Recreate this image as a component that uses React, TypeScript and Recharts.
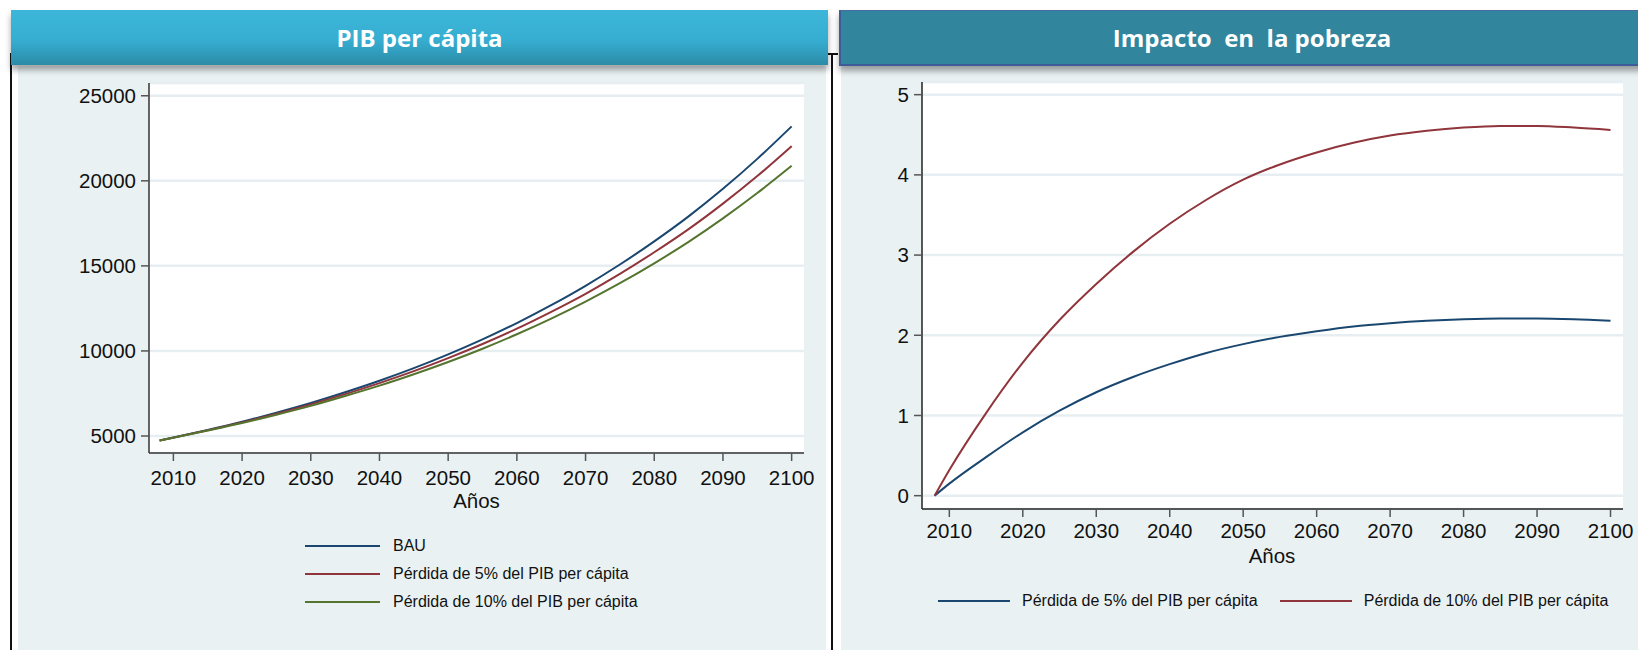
import React from 'react';
import { LineChart, Line, XAxis, YAxis, CartesianGrid, Legend } from 'recharts';

// ---------- data ----------
const years = [2008, 2010, 2015, 2020, 2025, 2030, 2035, 2040, 2045, 2050, 2055, 2060, 2065, 2070, 2075, 2080, 2085, 2090, 2095, 2100];

// PIB per cápita
const bau = [4740, 4910, 5360, 5840, 6370, 6940, 7570, 8250, 8990, 9800, 10680, 11640, 12690, 13830, 15080, 16440, 17910, 19530, 21290, 23200];
const loss5 = [4740, 4905, 5340, 5800, 6310, 6860, 7460, 8110, 8810, 9580, 10410, 11310, 12300, 13360, 14530, 15800, 17160, 18660, 20280, 22040];
const loss10 = [4740, 4900, 5320, 5760, 6250, 6770, 7350, 7960, 8630, 9350, 10130, 10980, 11900, 12900, 13980, 15150, 16410, 17790, 19280, 20880];

// Impacto en la pobreza
const pov5 = [0, 0.15, 0.48, 0.79, 1.06, 1.29, 1.48, 1.64, 1.78, 1.89, 1.98, 2.05, 2.11, 2.15, 2.18, 2.2, 2.21, 2.21, 2.2, 2.18];
const pov10 = [0, 0.32, 1.03, 1.66, 2.19, 2.64, 3.04, 3.39, 3.69, 3.94, 4.13, 4.28, 4.4, 4.49, 4.55, 4.59, 4.61, 4.61, 4.59, 4.56];

const xTicks = [2010, 2020, 2030, 2040, 2050, 2060, 2070, 2080, 2090, 2100];
const gdpTicks = [5000, 10000, 15000, 20000, 25000];
const povTicks = [0, 1, 2, 3, 4, 5];

const gdpNames = ['BAU', 'Pérdida de 5% del PIB per cápita', 'Pérdida de 10% del PIB per cápita'];
const povNames = ['Pérdida de 5% del PIB per cápita', 'Pérdida de 10% del PIB per cápita'];

const gdpData = years.map((year, i) => ({ year, bau: bau[i], loss5: loss5[i], loss10: loss10[i] }));
const povData = years.map((year, i) => ({ year, pov5: pov5[i], pov10: pov10[i] }));

// ---------- style ----------
const BLUE = '#1A476F';
const RED = '#90353B';
const GREEN = '#55752F';
const PANEL = '#E9F1F3';
const GRID = '#E6EEF2';
const FONT = '"Liberation Sans", Arial, sans-serif';
const TITLE_FONT = '"Open Sans", "Liberation Sans", sans-serif';

const tickStyle = { fontSize: 20.5, fill: '#111', fontFamily: FONT };

const ordered = (payload: any[] | undefined, names: string[]) =>
  [...(payload || [])].sort((a, b) => names.indexOf(a.value) - names.indexOf(b.value));

const VerticalLegend = (props: any) => {
  const items = ordered(props.payload, gdpNames);
  return (
    <div>
      {items.map((p: any) => (
        <div key={p.value} style={{ display: 'flex', alignItems: 'center', height: 28.3 }}>
          <div style={{ width: 75, height: 2, background: p.color, marginRight: 13 }} />
          <span style={{ fontSize: 16, color: '#111', fontFamily: FONT, whiteSpace: 'nowrap', lineHeight: '16px' }}>{p.value}</span>
        </div>
      ))}
    </div>
  );
};

const HorizontalLegend = (props: any) => {
  const items = ordered(props.payload, povNames);
  return (
    <div style={{ display: 'flex', alignItems: 'center', height: 28 }}>
      {items.map((p: any) => (
        <div key={p.value} style={{ display: 'flex', alignItems: 'center', marginRight: 22 }}>
          <div style={{ width: 72, height: 2, background: p.color, marginRight: 12 }} />
          <span style={{ fontSize: 16, color: '#111', fontFamily: FONT, whiteSpace: 'nowrap', lineHeight: '16px' }}>{p.value}</span>
        </div>
      ))}
    </div>
  );
};

const abs = (s: React.CSSProperties): React.CSSProperties => ({ position: 'absolute', ...s });

export default function App() {
  return (
    <div style={abs({ left: 0, top: 0, width: 1638, height: 650, background: '#fff', overflow: 'hidden' })}>
      {/* frame lines */}
      <div style={abs({ left: 10, top: 53, width: 2, height: 597, background: '#111' })} />
      <div style={abs({ left: 10, top: 53, width: 828, height: 2, background: '#111' })} />
      <div style={abs({ left: 831, top: 53, width: 2, height: 597, background: '#111' })} />

      {/* panel backgrounds */}
      <div style={abs({ left: 18, top: 66, width: 808, height: 584, background: PANEL })} />
      <div style={abs({ left: 841, top: 66, width: 797, height: 584, background: PANEL })} />

      {/* headers */}
      <div
        style={abs({
          left: 11, top: 10, width: 817, height: 55,
          background: 'linear-gradient(#3CB6D9 0%, #36AED1 55%, #2B8BA6 100%)',
          boxShadow: '0 5px 6px rgba(0,0,0,0.35)',
          display: 'flex', alignItems: 'center', justifyContent: 'center',
          color: '#fff', fontFamily: TITLE_FONT, fontWeight: 700, fontSize: 24,
        })}
      >
        PIB per cápita
      </div>
      <div
        style={abs({
          left: 839, top: 10, width: 824, height: 56, boxSizing: 'border-box',
          background: '#31859C',
          borderTop: '1px solid #4A6AA6', borderLeft: '2px solid #3D5C98', borderBottom: '2px solid #3D5C98',
          boxShadow: '0 5px 6px rgba(0,0,0,0.35)',
          display: 'flex', alignItems: 'center', justifyContent: 'center',
          color: '#fff', fontFamily: TITLE_FONT, fontWeight: 700, fontSize: 24, whiteSpace: 'pre',
        })}
      >
        {'Impacto  en  la pobreza'}
      </div>

      {/* left chart */}
      <div style={abs({ left: 0, top: 0 })}>
        <LineChart width={830} height={650} data={gdpData} margin={{ top: 83, right: 26, left: 0, bottom: 157 }}>
          <CartesianGrid vertical={false} stroke={GRID} strokeWidth={2.5} fill="#fff" />
          <XAxis
            dataKey="year" type="number" domain={[2006.45, 2101.8]} allowDataOverflow ticks={xTicks} interval={0}
            height={40} tickSize={8} tickMargin={9} tick={tickStyle}
            axisLine={{ stroke: '#333', strokeWidth: 1.5 }} tickLine={{ stroke: '#555', strokeWidth: 1.5 }}
          />
          <YAxis
            type="number" domain={[4000, 25750]} allowDataOverflow ticks={gdpTicks} interval={0}
            width={149} tickSize={8} tickMargin={5} tick={tickStyle}
            axisLine={{ stroke: '#333', strokeWidth: 1.5 }} tickLine={{ stroke: '#555', strokeWidth: 1.5 }}
          />
          <Line type="monotone" dataKey="bau" name={gdpNames[0]} stroke={BLUE} strokeWidth={2} dot={false} activeDot={false} isAnimationActive={false} />
          <Line type="monotone" dataKey="loss5" name={gdpNames[1]} stroke={RED} strokeWidth={2} dot={false} activeDot={false} isAnimationActive={false} />
          <Line type="monotone" dataKey="loss10" name={gdpNames[2]} stroke={GREEN} strokeWidth={2} dot={false} activeDot={false} isAnimationActive={false} />
          <Legend
            layout="vertical" align="center" verticalAlign="middle"
            content={<VerticalLegend />}
            wrapperStyle={{ left: 305, top: 531.5, width: 420, height: 86 }}
          />
        </LineChart>
      </div>
      <div style={abs({ left: 376.5, top: 491, width: 200, textAlign: 'center', fontSize: 20.5, lineHeight: '20px', fontFamily: FONT, color: '#111' })}>
        Años
      </div>

      {/* right chart */}
      <div style={abs({ left: 830, top: 0 })}>
        <LineChart width={808} height={650} data={povData} margin={{ top: 82, right: 15, left: 0, bottom: 101 }}>
          <CartesianGrid vertical={false} stroke={GRID} strokeWidth={2.5} fill="#fff" />
          <XAxis
            dataKey="year" type="number" domain={[2006.28, 2101.7]} allowDataOverflow ticks={xTicks} interval={0}
            height={40} tickSize={8} tickMargin={6} tick={tickStyle}
            axisLine={{ stroke: '#222', strokeWidth: 1.5 }} tickLine={{ stroke: '#555', strokeWidth: 1.5 }}
          />
          <YAxis
            type="number" domain={[-0.166, 5.158]} allowDataOverflow ticks={povTicks} interval={0}
            width={92} tickSize={8} tickMargin={5} tick={tickStyle}
            axisLine={{ stroke: '#222', strokeWidth: 1.5 }} tickLine={{ stroke: '#555', strokeWidth: 1.5 }}
          />
          <Line type="monotone" dataKey="pov5" name={povNames[0]} stroke={BLUE} strokeWidth={2} dot={false} activeDot={false} isAnimationActive={false} />
          <Line type="monotone" dataKey="pov10" name={povNames[1]} stroke={RED} strokeWidth={2} dot={false} activeDot={false} isAnimationActive={false} />
          <Legend
            layout="vertical" align="center" verticalAlign="middle"
            content={<HorizontalLegend />}
            wrapperStyle={{ left: 108, top: 587, width: 700, height: 28 }}
          />
        </LineChart>
      </div>
      <div style={abs({ left: 1172, top: 546, width: 200, textAlign: 'center', fontSize: 20.5, lineHeight: '20px', fontFamily: FONT, color: '#111' })}>
        Años
      </div>
    </div>
  );
}
